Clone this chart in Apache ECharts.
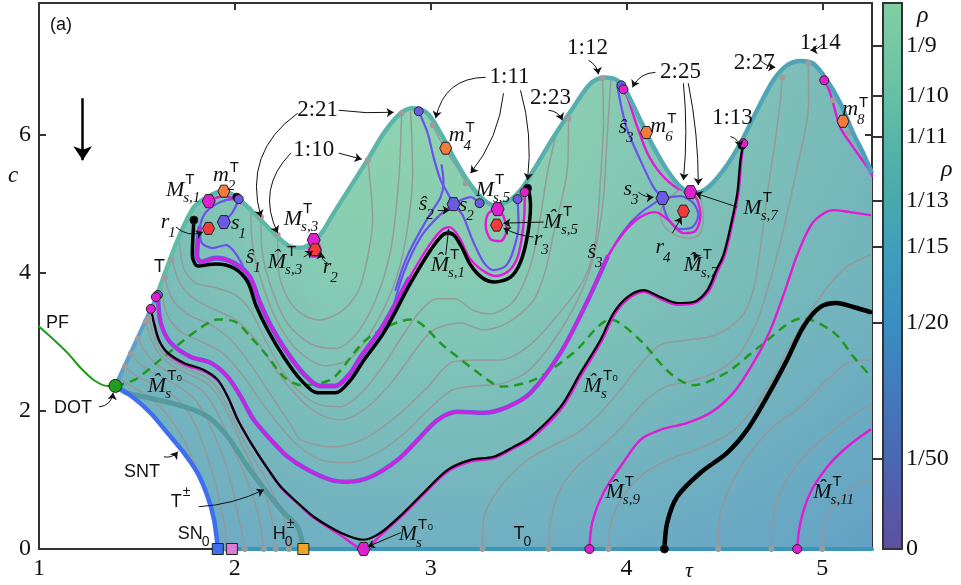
<!DOCTYPE html>
<html>
<head>
<meta charset="utf-8">
<script src="https://cdn.jsdelivr.net/npm/echarts@6.0.0/dist/echarts.min.js"></script>
<style>
html, body { margin: 0; padding: 0; background: #fff; }
#chart { width: 961px; height: 585px; }
</style>
</head>
<body>
<div id="chart"></div>
<script>
// axis ranges
const xMin = 1, xMax = 5.254, yMin = 0, yMax = 7.9;
const cbMax = 0.1205;

// colour bar ticks (rho values) and labels
const cbTicks = [1/9, 1/10, 1/11, 1/13, 1/15, 1/20, 1/50];
const cbLabelValues = [1/9, 1/10, 1/11, 1/13, 1/15, 1/20, 1/50, 0];
const cbLabels = ['1/9', '1/10', '1/11', '1/13', '1/15', '1/20', '1/50', '0'];

// bifurcation boundaries
const dotPoint = [[1.39, 2.36]];
const boundaryLeft = [[1.39, 2.36], [1.607, 3.69]];
const boundaryTop = [[1.607,3.707],[1.708,4.470],[1.791,4.947],[1.861,5.095],[1.929,5.168],[1.995,5.120],[2.065,4.951],[2.133,4.759],[2.199,4.571],[2.269,4.397],[2.337,4.36],[2.403,4.45],[2.45,4.6],[2.505,4.860],[2.677,5.626],[2.760,6.016],[2.847,6.305],[2.913,6.377],[2.983,6.305],[3.051,6.016],[3.117,5.669],[3.187,5.337],[3.255,5.095],[3.321,4.975],[3.391,5.023],[3.459,5.192],[3.526,5.481],[3.628,5.962],[3.730,6.396],[3.816,6.734],[3.883,6.821],[3.953,6.782],[4.004,6.594],[4.071,6.203],[4.138,5.818],[4.208,5.481],[4.276,5.240],[4.342,5.149],[4.412,5.221],[4.495,5.481],[4.582,5.871],[4.667,6.348],[4.750,6.782],[4.820,6.999],[4.888,7.061],[4.954,7.023],[5.024,6.782],[5.092,6.450],[5.158,6.016],[5.209,5.727],[5.254,5.438]];
const snt = [[1.39,2.36],[1.486,2.182],[1.571,1.965],[1.657,1.676],[1.741,1.387],[1.810,1.098],[1.861,0.760],[1.894,0.423],[1.912,0.038],[1.913,0]];
const tPlusMinus = [[1.39,2.36],[1.452,2.254],[1.571,2.182],[1.741,2.061],[1.861,1.917],[1.963,1.628],[2.065,1.194],[2.167,0.809],[2.252,0.520],[2.320,0.326],[2.345,0.087],[2.350,0]];
const t0Line = [[1.913,0],[5.254,0]];
const pfLine = [[1.0,3.22],[1.077,3.025],[1.146,2.836],[1.214,2.616],[1.281,2.442],[1.351,2.360],[1.39,2.36]];
const dashedLine = [[1.39,2.36],[1.49,2.45],[1.62,2.74],[1.74,3.02],[1.83,3.21],[1.91,3.32],[2.00,3.29],[2.08,3.07],[2.17,2.78],[2.25,2.49],[2.34,2.37],[2.44,2.40],[2.51,2.49],[2.68,3.05],[2.90,3.32],[3.07,2.93],[3.29,2.45],[3.36,2.35],[3.53,2.45],[3.73,2.84],[3.92,3.32],[4.07,3.02],[4.22,2.55],[4.34,2.37],[4.51,2.55],[4.68,2.93],[4.90,3.34],[5.06,3.13],[5.16,2.78],[5.25,2.49]];

// black / magenta / purple manifolds
const aBlack = [[1.791,4.759],[1.783,4.253],[1.811,4.094],[1.903,4.123],[1.995,4.065],[2.066,3.863],[2.107,3.530],[2.168,3.169],[2.250,2.779],[2.337,2.447],[2.423,2.259],[2.515,2.259],[2.592,2.447],[2.653,2.707],[2.760,3.126],[2.898,3.849],[3.000,4.325],[3.061,4.542],[3.102,4.571],[3.153,4.397],[3.204,4.108],[3.265,3.921],[3.327,3.863],[3.408,3.935],[3.459,4.152],[3.495,4.542],[3.510,4.975],[3.500,5.221]];
const aMagenta = [[1.821,4.643],[1.806,4.253],[1.827,4.152],[1.903,4.210],[1.995,4.138],[2.077,3.935],[2.122,3.603],[2.184,3.227],[2.265,2.851],[2.352,2.533],[2.434,2.360],[2.515,2.360],[2.587,2.533],[2.643,2.779],[2.750,3.198],[2.888,3.906],[2.990,4.383],[3.056,4.614],[3.097,4.657],[3.148,4.498],[3.199,4.209],[3.270,4.022],[3.332,3.949],[3.398,4.022],[3.444,4.224],[3.469,4.571],[3.480,4.975],[3.480,5.163]];
const m2Magenta = [[1.607,3.675],[1.622,3.270],[1.673,2.981],[1.776,2.779],[1.878,2.692],[1.964,2.490],[2.031,2.201],[2.097,1.869],[2.184,1.580],[2.270,1.334],[2.372,1.146],[2.490,1.001],[2.577,0.973],[2.694,1.045],[2.832,1.291],[2.934,1.580],[3.036,1.869],[3.138,1.985],[3.270,1.970],[3.393,2.057],[3.510,2.259],[3.663,2.837],[3.791,3.530],[3.903,4.224],[3.985,4.571],[4.071,4.802],[4.148,4.874],[4.214,4.759],[4.291,4.571],[4.352,4.600],[4.378,4.831],[4.362,5.048],[4.327,5.163],[4.260,5.22],[4.173,5.438],[4.107,5.727],[4.056,6.103],[4.005,6.536],[3.985,6.637]];
const bBlack = [[1.571,3.473],[1.587,3.270],[1.612,3.025],[1.658,2.837],[1.740,2.692],[1.842,2.591],[1.913,2.447],[1.964,2.201],[2.015,1.869],[2.082,1.536],[2.158,1.204],[2.235,0.900],[2.321,0.669],[2.403,0.467],[2.541,0.236],[2.658,0.134],[2.745,0.236],[2.862,0.525],[2.964,0.814],[3.087,1.146],[3.204,1.290],[3.321,1.334],[3.423,1.478],[3.510,1.623],[3.663,2.056],[3.765,2.548],[3.867,3.025],[3.934,3.415],[4.005,3.646],[4.087,3.747],[4.173,3.646],[4.260,3.559],[4.342,3.574],[4.413,3.747],[4.459,4.036],[4.495,4.253],[4.531,4.658],[4.566,5.149],[4.582,5.626],[4.597,5.871]];
const bMagenta = [[1.571,3.47],[1.59,3.25],[1.617,3.0],[1.663,2.81],[1.745,2.665],[1.847,2.565],[1.918,2.42],[1.969,2.175],[2.02,1.845],[2.087,1.51],[2.163,1.18],[2.24,0.875],[2.326,0.645],[2.403,0.45],[2.541,0.2],[2.658,0.0],[2.745,0.2],[2.862,0.5],[2.964,0.79],[3.087,1.12],[3.204,1.265],[3.321,1.31],[3.423,1.455],[3.515,1.6],[3.668,2.03],[3.77,2.52],[3.872,3.0],[3.939,3.39],[4.01,3.62],[4.087,3.72],[4.173,3.62],[4.26,3.535],[4.342,3.55],[4.418,3.72],[4.464,4.01],[4.5,4.23],[4.536,4.64],[4.571,5.13],[4.587,5.61],[4.597,5.87]];
const cBlack = [[4.194,0],[4.208,0.380],[4.259,0.756],[4.378,1.103],[4.514,1.392],[4.616,1.724],[4.718,2.201],[4.820,2.735],[4.903,3.212],[4.990,3.501],[5.075,3.559],[5.158,3.501],[5.245,3.429]];
const ms9Magenta = [[3.811,0],[3.825,0.380],[3.883,0.814],[3.969,1.190],[4.071,1.580],[4.173,1.724],[4.311,1.825],[4.429,1.970],[4.546,2.259],[4.648,2.693],[4.735,3.170],[4.811,3.748],[4.872,4.253],[4.954,4.730],[5.056,4.903],[5.143,4.874],[5.245,4.831]];
const ms11Magenta = [[4.872,0],[4.888,0.380],[4.939,0.814],[5.026,1.190],[5.128,1.479],[5.245,1.724]];
const rightMagenta = [[5.010,6.782],[5.041,6.593],[5.092,6.103],[5.158,5.814],[5.230,5.525],[5.255,5.40]];
const lobeMagenta = [[1.867,5.0],[1.903,5.08],[1.954,5.10],[2.005,5.06],[2.031,5.0]];
const r2Loop = [[2.403,4.47],[2.385,4.42],[2.378,4.33],[2.39,4.24],[2.418,4.23],[2.44,4.31],[2.425,4.42],[2.403,4.47]];
const r3Loop = [[3.342,4.918],[3.296,4.860],[3.281,4.686],[3.306,4.484],[3.357,4.455],[3.388,4.614],[3.372,4.817],[3.342,4.918]];
const purpleLobe = [[2.020,5.062],[1.954,5.048],[1.888,4.961],[1.842,4.831],[1.821,4.614],[1.832,4.426],[1.888,4.354],[1.954,4.397],[1.990,4.325],[2.031,4.152],[2.071,3.892],[2.117,3.603]];
const purpleS1 = [[1.944,4.730],[1.99,4.88],[2.020,5.062]];
const purpleTop = [[2.939,6.334],[2.985,6.016],[3.015,5.669],[3.051,5.337],[3.087,5.149],[3.117,4.990]];
const purpleHat2 = [[3.056,5.554],[3.066,5.308],[3.051,5.091],[3.0,4.860],[2.913,4.426],[2.862,4.108],[2.821,3.747]];
const purpleS2 = [[3.117,4.990],[3.036,4.802],[2.949,4.513],[2.862,3.993],[2.796,3.358]];
const purpleS2r = [[3.117,4.990],[3.204,5.091],[3.250,5.004]];
const purpleLoop = [[3.117,4.990],[3.163,4.831],[3.214,4.470],[3.270,4.152],[3.321,4.036],[3.383,4.094],[3.423,4.325],[3.449,4.686],[3.444,5.062]];
const purpleS3 = [[3.903,4.224],[3.985,4.60],[4.071,4.86],[4.184,5.077]];
const purpleR4 = [[4.184,5.077],[4.276,5.106],[4.342,5.004],[4.367,4.831],[4.337,4.658],[4.276,4.629],[4.224,4.730],[4.194,4.903],[4.184,5.077]];
const purpleS3up = [[4.184,5.077],[4.138,5.236],[4.071,5.626],[4.0,6.103],[3.954,6.680]];

// gray iso-rotation contours
const u1 = [[2.219,4.542],[2.22,4.15],[2.25,3.748],[2.327,3.430],[2.429,3.314],[2.541,3.430],[2.628,3.719],[2.673,4.152],[2.704,4.759],[2.679,5.626]];
const u2 = [[2.133,4.802],[2.14,4.30],[2.19,3.75],[2.27,3.26],[2.388,2.97],[2.515,2.90],[2.617,3.10],[2.719,3.603],[2.796,4.325],[2.837,5.337],[2.852,6.305]];
const u3 = [[2.082,4.947],[2.09,4.40],[2.15,3.75],[2.23,3.22],[2.33,2.85],[2.464,2.65],[2.592,2.76],[2.694,3.13],[2.806,3.77],[2.872,4.47],[2.908,5.482],[2.898,6.320]];
const gA0 = [[1.715,4.50],[1.74,4.05],[1.80,3.85],[1.90,3.78],[2.0,3.68],[2.08,3.45],[2.16,3.0],[2.25,2.55],[2.34,2.25],[2.44,2.08],[2.54,2.06],[2.65,2.27],[2.75,2.62],[2.86,3.10],[2.95,3.45],[3.03,3.62],[3.12,3.62],[3.22,3.45],[3.30,3.40],[3.40,3.52],[3.46,3.75],[3.52,4.20],[3.56,4.8],[3.60,5.5],[3.64,5.98]];
const gA1 = [[1.679,4.181],[1.724,3.820],[1.801,3.603],[1.903,3.458],[2.005,3.314],[2.107,3.025],[2.209,2.591],[2.337,2.158],[2.439,1.941],[2.541,1.869],[2.679,2.057],[2.811,2.447],[2.934,2.924],[3.015,3.170],[3.153,3.271],[3.270,3.170],[3.393,3.271],[3.526,3.603],[3.587,4.036],[3.628,4.571],[3.699,5.525],[3.704,6.233]];
const gA2 = [[1.643,3.921],[1.684,3.603],[1.765,3.386],[1.878,3.242],[1.980,3.025],[2.082,2.664],[2.184,2.230],[2.286,1.797],[2.337,1.580],[2.505,1.478],[2.679,1.623],[2.847,1.970],[2.985,2.346],[3.102,2.693],[3.219,2.736],[3.357,2.736],[3.495,2.924],[3.628,3.314],[3.781,3.892],[3.842,4.470],[3.867,5.337],[3.883,6.204],[3.878,6.811]];
const gA3 = [[1.625,3.80],[1.65,3.42],[1.72,3.15],[1.83,3.0],[1.93,2.85],[2.03,2.55],[2.13,2.15],[2.23,1.78],[2.33,1.48],[2.45,1.28],[2.58,1.25],[2.72,1.38],[2.86,1.66],[2.99,2.02],[3.11,2.30],[3.24,2.36],[3.37,2.40],[3.50,2.58],[3.63,3.02],[3.75,3.60],[3.83,4.2],[3.88,5.0],[3.90,5.9],[3.92,6.78]];
const gSeg = [[3.010,6.133],[3.077,5.770],[3.143,5.481],[3.179,5.293]];
const gLoop = [[4.276,5.221],[4.214,5.048],[4.173,4.874],[4.189,4.686],[4.250,4.542],[4.327,4.498],[4.378,4.571],[4.393,4.831],[4.367,5.178]];
const gb1 = [[3.265,0],[3.270,0.423],[3.357,0.900],[3.495,1.291],[3.612,1.478],[3.750,1.681],[3.867,1.970],[3.969,2.303],[4.071,2.665],[4.173,2.954],[4.327,3.026],[4.454,3.097],[4.582,3.343],[4.648,3.748],[4.694,4.571],[4.724,5.236],[4.760,5.915],[4.786,6.493],[4.796,6.825]];
const gb2 = [[3.602,0],[3.612,0.40],[3.66,0.85],[3.75,1.20],[3.86,1.45],[3.97,1.75],[4.10,2.15],[4.20,2.35],[4.32,2.42],[4.45,2.55],[4.57,2.80],[4.66,3.25],[4.73,3.85],[4.80,4.60],[4.87,5.50],[4.93,6.45],[4.929,7.027]];
const gb3 = [[3.908,0],[3.923,0.395],[3.980,0.756],[4.082,1.074],[4.214,1.291],[4.378,1.464],[4.531,1.681],[4.643,2.013],[4.745,2.447],[4.837,2.954],[4.929,3.387],[5.015,3.748],[5.117,4.065],[5.245,4.253]];
const gb4 = [[4.469,0],[4.480,0.524],[4.546,1.001],[4.633,1.392],[4.750,1.768],[4.888,2.057],[5.026,2.447],[5.128,2.693],[5.245,2.736]];
const gb5 = [[4.740,0],[4.750,0.496],[4.811,0.959],[4.913,1.364],[5.041,1.681],[5.143,1.912],[5.245,2.085]];
const gb6 = [[5.0,0],[5.005,0.322],[5.056,0.611],[5.158,0.900],[5.245,1.001]];
const f0 = [[1.561,3.343],[1.585,3.10],[1.62,2.88],[1.68,2.72],[1.76,2.60],[1.85,2.49],[1.91,2.33],[1.96,2.08],[2.01,1.77],[2.07,1.44],[2.14,1.10],[2.20,0.78],[2.25,0.45],[2.27,0.2],[2.276,0]];
const f1 = [[1.546,3.29],[1.575,3.02],[1.62,2.80],[1.69,2.63],[1.78,2.51],[1.86,2.39],[1.92,2.19],[1.97,1.92],[2.02,1.60],[2.08,1.25],[2.14,0.90],[2.18,0.55],[2.20,0.25],[2.209,0]];
const f2 = [[1.505,3.04],[1.54,2.86],[1.59,2.70],[1.66,2.56],[1.75,2.43],[1.83,2.30],[1.89,2.08],[1.94,1.80],[1.99,1.45],[2.05,1.08],[2.10,0.70],[2.13,0.35],[2.148,0]];
const f3 = [[1.469,2.83],[1.51,2.69],[1.57,2.57],[1.65,2.45],[1.73,2.32],[1.80,2.15],[1.85,1.92],[1.90,1.62],[1.95,1.25],[1.99,0.85],[2.02,0.45],[2.04,0.18],[2.051,0]];
const f4 = [[1.439,2.64],[1.49,2.52],[1.56,2.42],[1.64,2.31],[1.71,2.16],[1.77,1.95],[1.82,1.65],[1.87,1.25],[1.91,0.85],[1.94,0.45],[1.955,0.2],[1.959,0]];
const f5 = [[1.41,2.48],[1.47,2.36],[1.55,2.22],[1.62,2.05],[1.68,1.85],[1.74,1.58],[1.79,1.26],[1.84,0.92],[1.88,0.55],[1.91,0.25],[1.93,0]];
const grayLines = [u1, u2, u3, gA0, gA1, gA2, gA3, gSeg, gLoop, gb1, gb2, gb3, gb4, gb5, gb6, f0, f1, f2, f3, f4, f5];

// markers
const grayDots = [[1.959,0],[2.051,0],[2.148,0],[2.209,0],[2.276,0],[3.265,0],[3.602,0],[3.908,0],[4.469,0],[4.740,0],[5.0,0],[2.219,4.542],[2.679,5.626],[2.133,4.802],[2.852,6.305],[3.704,6.233],[3.878,6.811],[4.796,6.825],[4.929,7.027],[3.010,6.133],[3.179,5.293],[1.679,4.181],[1.643,3.921],[1.561,3.343],[1.546,3.29],[1.505,3.04],[1.469,2.83],[1.439,2.64],[5.056,6.493],[5.133,6.016]];
const blackDots = [[1.791,4.759],[3.495,5.221],[2.010,5.091],[4.194,0],[4.59,5.84]];
const purpleDots = [[1.607,3.675],[2.020,5.062],[2.939,6.334],[3.250,5.004],[3.444,5.062],[3.974,6.709]];
const magentaDots = [[1.597,3.646],[1.571,3.473],[3.480,5.163],[3.985,6.651],[4.597,5.871],[5.010,6.782],[3.811,0],[4.872,0]];
const hexMagenta = [[1.867,5.033],[2.403,4.47],[3.342,4.918],[4.327,5.163],[2.658,0]];
const hexOrange = [[1.944,5.178],[3.077,5.799],[4.102,6.026],[5.106,6.189]];
const hexRed = [[1.866,4.639],[2.41,4.33],[3.337,4.686],[4.291,4.889]];
const hexPurple = [[1.944,4.730],[3.117,4.990],[4.184,5.077]];
const sqBlue = [[1.913,0]];
const sqPink = [[1.985,0]];
const sqOrange = [[2.350,0]];

// labels: [tau, c, main, superscript, subscript]
const ratioLabels = [[2.403,5.770,'1:10'],[2.423,6.348,'2:21'],[3.403,6.825,'1:11'],[3.801,7.244,'1:12'],[3.612,6.522,'2:23'],[4.276,6.897,'2:25'],[4.653,7.027,'2:27'],[4.990,7.316,'1:14'],[4.541,6.232,'1:13']];
const mathLabels = [
  [1.648,5.192,'M','T','s,1'], [1.888,5.37,'m','T','2'], [1.622,4.686,'r','','1'], [1.980,4.672,'s','','1'],
  [2.056,4.181,'ŝ','','1'], [2.250,4.772,'M','T','s,3'], [2.168,4.152,'M\u0302','T','s,3'], [2.449,4.036,'r','','2'],
  [3.092,5.944,'m','T','4'], [2.939,4.947,'ŝ','','2'], [3.143,4.932,'s','','2'], [3.230,5.192,'M','T','s,5'],
  [3.577,4.730,'M\u0302','T','s,5'], [3.526,4.441,'r','','3'], [3.000,4.108,'M\u0302','T','s,1'], [3.801,4.253,'ŝ','','3'],
  [3.959,6.059,'ŝ','','3'], [4.122,6.072,'m','T','6'], [3.985,5.163,'s','','3'], [4.597,4.929,'M','T','s,7'],
  [4.148,4.325,'r','','4'], [4.291,4.108,'M\u0302','T','s,7'], [5.102,6.315,'m','T','8'], [1.556,2.361,'M\u0302','T₀','s'],
  [3.781,2.361,'M\u0302','T₀','s'], [2.837,0.207,'M','T₀','s'], [3.893,0.828,'M\u0302','T','s,9'], [4.954,0.828,'M\u0302','T','s,11']
];
const sansLabels = [[1.036,3.270,'PF','',''],[1.077,2.042,'DOT','',''],[1.587,4.080,'T','',''],[1.434,1.117,'SNT','',''],[1.673,0.684,'T','±',''],[1.709,0.221,'SN','','0'],[2.194,0.221,'H','±','0'],[3.423,0.221,'T','','0']];

// annotation arrows: [x1, y1, x2, y2, curveness]
const arrows = [
  [2.286,5.727,2.219,4.571,-0.35],[2.531,5.727,2.648,5.640,0],[2.321,6.305,2.133,4.802,-0.35],[2.531,6.348,2.811,6.319,-0.05],
  [3.281,6.825,3.026,6.233,-0.4],[3.372,6.594,3.204,5.438,0.15],[3.459,6.637,3.495,5.337,0.1],[3.806,7.071,3.857,6.868,0.25],
  [3.602,6.348,3.673,6.204,0.3],[4.148,6.897,4.031,6.680,-0.3],[4.291,6.738,4.291,5.337,0.05],[4.316,6.738,4.367,5.265,0.05],
  [4.684,7.071,4.760,6.969,-0.2],[5.005,7.316,4.939,7.215,0.2],[4.531,5.969,4.582,5.810,0.3],[1.699,4.658,1.837,4.585,-0.3],
  [2.352,4.224,2.398,4.311,0],[2.480,4.123,2.439,4.296,0.3],[3.036,4.903,3.097,4.903,0],[3.077,4.253,3.092,4.629,0],
  [3.577,4.730,3.372,4.715,0],[3.526,4.513,3.372,4.643,0.1],[4.061,5.163,4.138,5.091,-0.2],[4.566,4.947,4.352,5.149,0],
  [4.235,4.571,4.281,4.802,0],[4.362,4.210,4.342,4.282,0],[1.306,2.056,1.378,2.259,-0.4],[1.638,1.334,1.709,1.406,-0.3],
  [1.816,0.612,2.148,0.857,-0.1],[2.847,0.236,2.679,0.033,0]
];
const bigArrow = [[1.223, 6.522, 1.223, 5.626]];

const SERIF = '"Liberation Serif", "DejaVu Serif", serif';
const SANS = '"Liberation Sans", "DejaVu Sans", sans-serif';
const MAGENTA = '#e21ad6', PURPLE = '#6b52ee', GRAY = 'rgba(150,150,150,0.9)';

const measureCtx = document.createElement('canvas').getContext('2d');
function textWidth(t, font) { measureCtx.font = font; return measureCtx.measureText(t).width; }

function curve(data, color, width, z, extra) {
  return Object.assign({
    type: 'line', data: data, symbol: 'none', showSymbol: false, smooth: 0.3, z: z, silent: true,
    lineStyle: { color: color, width: width, cap: 'round', join: 'round' }
  }, extra || {});
}

function markers(data, symbol, size, color, z, border) {
  return {
    type: 'scatter', data: data, symbol: symbol, symbolSize: size, z: z, silent: true,
    itemStyle: { color: color, borderColor: border === undefined ? '#222' : border, borderWidth: border === null ? 0 : 1, opacity: 1 }
  };
}

function labelSeries(list, mainFont, supFont, subFont, z) {
  return {
    type: 'custom', z: z, silent: true, data: list.map(l => [l[0], l[1]]),
    renderItem: function (params, api) {
      const l = list[params.dataIndex];
      const p = api.coord([l[0], l[1]]);
      const lower = /^[a-zŝ]/.test(l[2]);
      const y = p[1] - (lower ? 3 : 0);
      const w = textWidth(l[2], mainFont);
      const kids = [{ type: 'text', x: p[0], y: y, style: { text: l[2], font: mainFont, fill: '#111', textAlign: 'left', textVerticalAlign: 'middle' } }];
      if (l[3]) kids.push({ type: 'text', x: p[0] + w + 1, y: p[1] - 10, style: { text: l[3], font: supFont, fill: '#111', textAlign: 'left', textVerticalAlign: 'middle' } });
      if (l[4]) kids.push({ type: 'text', x: p[0] + w - 1, y: p[1] + 8, style: { text: l[4], font: subFont, fill: '#111', textAlign: 'left', textVerticalAlign: 'middle' } });
      return { type: 'group', children: kids };
    }
  };
}

const fillPts = [].concat(boundaryLeft, boundaryTop, [[xMax, 0], [snt[snt.length - 1][0], 0]], snt.slice().reverse());

const series = [];
// region fill
series.push({
  type: 'custom', z: 1, silent: true, data: [[xMin, 0]],
  renderItem: function (params, api) {
    return {
      type: 'group', children: [
        { type: 'polygon', shape: { points: fillPts.map(p => api.coord(p)) },
          style: { fill: { type: 'linear', x: 0, y: 0, x2: 0, y2: 1, colorStops: [
            { offset: 0, color: '#90d4ae' }, { offset: 0.45, color: '#86cbb3' }, { offset: 1, color: '#70afc2' }] } } },
        { type: 'polygon', shape: { points: fillPts.map(p => api.coord(p)) },
          style: { fill: { type: 'linear', x: 0, y: 0, x2: 1, y2: 0, colorStops: [
            { offset: 0, color: 'rgba(90,150,200,0.35)' }, { offset: 0.28, color: 'rgba(90,150,200,0)' }, { offset: 0.5, color: 'rgba(90,150,200,0)' }, { offset: 1, color: 'rgba(80,140,205,0.38)' }] } } }
      ]
    };
  }
});
// gray contours
grayLines.forEach(g => series.push(curve(g, GRAY, 1.5, 2)));
// T± and dashed
series.push(curve(tPlusMinus, 'rgba(80,150,150,0.85)', 5, 3));
series.push(curve(dashedLine, '#1f9a1f', 2.5, 4, { lineStyle: { color: '#1f9a1f', width: 2.5, type: [9, 6] } }));
series.push(curve(pfLine, '#1f9a1f', 2, 4));
// purple
series.push(curve(aMagenta.slice(0, 16), PURPLE, 5, 5));
series.push(curve(m2Magenta.slice(0, 24), PURPLE, 4.5, 5));
[purpleLobe, purpleS1, purpleTop, purpleHat2, purpleS2, purpleS2r, purpleLoop, purpleS3, purpleR4, purpleS3up].forEach(p => series.push(curve(p, PURPLE, 2.2, 5)));
// magenta
[aMagenta, m2Magenta, bMagenta, ms9Magenta, ms11Magenta, rightMagenta, lobeMagenta, r2Loop, r3Loop].forEach(m => series.push(curve(m, MAGENTA, 2.4, 6)));
// black
series.push(curve(aBlack, '#000', 3.5, 7));
series.push(curve(bBlack, '#000', 2.2, 7));
series.push(curve(cBlack, '#000', 4.5, 7));
// boundaries
series.push(curve(boundaryLeft, '#5b9fca', 4, 8, { smooth: false }));
series.push(curve(boundaryTop, '#5bb5a5', 4.5, 8, { lineStyle: { width: 4.5, color: { type: 'linear', x: 0, y: 0, x2: 1, y2: 0, colorStops: [
  { offset: 0, color: '#5fbca5' }, { offset: 0.55, color: '#58b0ad' }, { offset: 1, color: '#4c9fbb' }] } } }));
series.push(curve(snt, '#3f6ff0', 4.5, 8));
series.push(curve(t0Line, '#3b97b9', 4, 8, { smooth: false }));
// markers
series.push(markers(grayDots, 'circle', 6, '#9c9c9c', 9, null));
series.push(markers(blackDots, 'circle', 8, '#000', 9));
series.push(markers(purpleDots, 'circle', 9, '#6b5ae3', 10));
series.push(markers(magentaDots, 'circle', 9, '#e020d0', 10));
const HEX = 'path://M-5,0 L-2.5,-4.33 L2.5,-4.33 L5,0 L2.5,4.33 L-2.5,4.33 Z';
series.push(markers(hexMagenta, HEX, 13, '#e020d0', 11));
series.push(markers(hexOrange, HEX, 12, '#f47b3e', 11));
series.push(markers(hexRed, HEX, 12, '#f23a3a', 11));
series.push(markers(hexPurple, HEX, 13, '#6b5ae3', 11));
series.push(markers(sqBlue, 'rect', 11, '#3f6ff0', 11));
series.push(markers(sqPink, 'rect', 11, '#e07ad6', 11));
series.push(markers(sqOrange, 'rect', 11, '#f5a524', 11));
series.push(markers(dotPoint, 'circle', 13, '#1e9e1e', 11));
// arrows
series.push({
  type: 'lines', coordinateSystem: 'cartesian2d', z: 12, silent: true,
  symbol: ['none', 'arrow'], symbolSize: 7,
  lineStyle: { color: '#111', width: 1, opacity: 1 },
  data: arrows.map(a => ({ coords: [[a[0], a[1]], [a[2], a[3]]], lineStyle: { curveness: a[4] } }))
});
series.push({
  type: 'lines', coordinateSystem: 'cartesian2d', z: 12, silent: true,
  symbol: ['none', 'arrow'], symbolSize: 14,
  lineStyle: { color: '#000', width: 2.5, opacity: 1 },
  data: bigArrow.map(a => ({ coords: [[a[0], a[1]], [a[2], a[3]]] }))
});
// labels
series.push({
  type: 'custom', z: 13, silent: true, data: ratioLabels.map(l => [l[0], l[1]]),
  renderItem: function (params, api) {
    const l = ratioLabels[params.dataIndex];
    const p = api.coord([l[0], l[1]]);
    return { type: 'text', x: p[0], y: p[1], style: { text: l[2], font: '23px ' + SERIF, fill: '#111', textAlign: 'center', textVerticalAlign: 'middle' } };
  }
});
series.push(labelSeries(mathLabels, 'italic 22px ' + SERIF, '15px ' + SANS, 'italic 15px ' + SERIF, 13));
series.push(labelSeries(sansLabels, '18px ' + SANS, '14px ' + SANS, '14px ' + SANS, 13));
// colour bar
series.push({
  type: 'custom', xAxisIndex: 2, yAxisIndex: 2, z: 2, silent: true, data: [[0, 0]],
  renderItem: function (params, api) {
    const a = api.coord([0, cbMax]);
    const b = api.coord([1, 0]);
    return {
      type: 'rect', shape: { x: a[0], y: a[1], width: b[0] - a[0], height: b[1] - a[1] },
      style: { stroke: '#333', lineWidth: 2, fill: { type: 'linear', x: 0, y: 1, x2: 0, y2: 0, colorStops: [
        { offset: 0, color: '#5e4f9f' }, { offset: 0.166, color: '#4b67b3' }, { offset: 0.414, color: '#3a8ec2' },
        { offset: 0.553, color: '#3f9fbb' }, { offset: 0.639, color: '#48a9ac' }, { offset: 0.755, color: '#58b6a6' },
        { offset: 0.83, color: '#66c0a5' }, { offset: 0.923, color: '#76c8a3' }, { offset: 1, color: '#82cea2' }] } }
    };
  }
});

const frameLine = { onZero: false, lineStyle: { color: '#333', width: 2 } };
const frameTick = { inside: true, length: 7, lineStyle: { color: '#333', width: 2 } };
const tickFont = { fontFamily: SERIF, fontSize: 24, color: '#111' };

const option = {
  animation: false,
  backgroundColor: '#fff',
  grid: [
    { left: 39, right: 89, top: 3, bottom: 36 },
    { left: 883, width: 19, top: 3, bottom: 36 }
  ],
  xAxis: [
    { type: 'value', gridIndex: 0, min: xMin, max: xMax, interval: 1, position: 'bottom', axisLine: frameLine, axisTick: frameTick,
      axisLabel: Object.assign({ margin: 8, showMaxLabel: false }, tickFont), splitLine: { show: false } },
    { type: 'value', gridIndex: 0, min: xMin, max: xMax, interval: 1, position: 'top', axisLine: frameLine, axisTick: frameTick,
      axisLabel: { show: false }, splitLine: { show: false } },
    { type: 'value', gridIndex: 1, min: 0, max: 1, show: false }
  ],
  yAxis: [
    { type: 'value', gridIndex: 0, min: yMin, max: yMax, interval: 2, position: 'left', axisLine: frameLine, axisTick: frameTick,
      axisLabel: Object.assign({ margin: 8, showMaxLabel: false }, tickFont), splitLine: { show: false } },
    { type: 'value', gridIndex: 0, min: yMin, max: yMax, interval: 2, position: 'right', axisLine: frameLine, axisTick: frameTick,
      axisLabel: { show: false }, splitLine: { show: false } },
    { type: 'value', gridIndex: 1, min: 0, max: cbMax, position: 'right', axisLine: { show: false },
      axisTick: { show: true, inside: true, length: 10, lineStyle: { color: '#333', width: 2 }, customValues: cbTicks },
      axisLabel: Object.assign({ margin: 4, customValues: cbLabelValues, formatter: function (v) {
        const i = cbLabelValues.findIndex(x => Math.abs(x - v) < 1e-6);
        return i >= 0 ? cbLabels[i] : '';
      } }, tickFont), splitLine: { show: false } }
  ],
  graphic: [
    { type: 'text', left: 50, top: 16, style: { text: '(a)', font: '18px ' + SANS, fill: '#111' } },
    { type: 'text', left: 8, top: 164, style: { text: 'c', font: 'italic 23px ' + SERIF, fill: '#111' } },
    { type: 'text', left: 685, top: 560, style: { text: 'τ', font: 'italic 22px ' + SERIF, fill: '#111' } },
    { type: 'text', left: 917, top: 4, style: { text: 'ρ', font: 'italic 24px ' + SERIF, fill: '#111' } },
    { type: 'text', left: 941, top: 158, style: { text: 'ρ', font: 'italic 24px ' + SERIF, fill: '#111' } }
  ],
  series: series
};

const chart = echarts.init(document.getElementById('chart'));
chart.setOption(option);
window.addEventListener('resize', function () { chart.resize(); });
</script>
</body>
</html>
